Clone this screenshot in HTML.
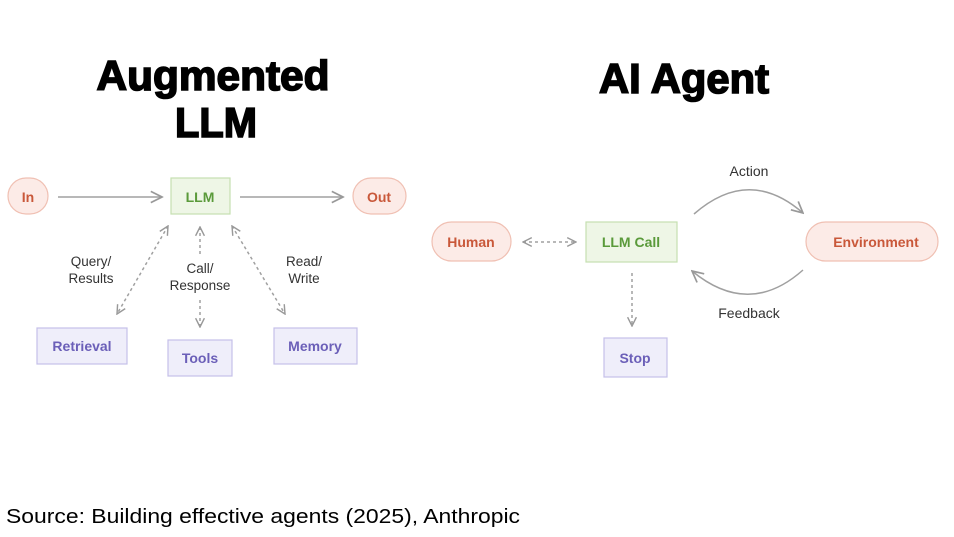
<!DOCTYPE html>
<html><head><meta charset="utf-8"><style>
html,body{margin:0;padding:0;background:#fff;}
svg{display:block;}
</style></head><body>
<svg width="954" height="537" viewBox="0 0 954 537" xmlns="http://www.w3.org/2000/svg" font-family="Liberation Sans, sans-serif">
<defs>
<marker id="ah" viewBox="0 0 10 10" refX="9" refY="5" markerWidth="11" markerHeight="11" markerUnits="userSpaceOnUse" orient="auto-start-reverse">
<path d="M1,1 L9,5 L1,9" fill="none" stroke="#999" stroke-width="1.3"/>
</marker>
<marker id="ah2" viewBox="0 0 10 10" refX="9" refY="5" markerWidth="14" markerHeight="14" markerUnits="userSpaceOnUse" orient="auto-start-reverse">
<path d="M1,1 L9,5 L1,9" fill="none" stroke="#999" stroke-width="1.2"/>
</marker>
</defs>
<g font-weight="bold" fill="#000" stroke="#000" stroke-width="1.6" text-anchor="middle" font-size="42">
<text x="213" y="90" textLength="233" lengthAdjust="spacingAndGlyphs">Augmented</text>
<text x="216" y="137" textLength="82" lengthAdjust="spacingAndGlyphs">LLM</text>
<text x="684" y="93" textLength="170" lengthAdjust="spacingAndGlyphs">AI Agent</text>
</g>
<!-- Left diagram -->
<g stroke-width="1.2">
<rect x="8" y="178" width="40" height="36" rx="18" fill="#fcebe7" stroke="#f0c0b3"/>
<rect x="171" y="178" width="59" height="36" fill="#eef6e6" stroke="#c5e0b0"/>
<rect x="353" y="178" width="53" height="36" rx="18" fill="#fcebe7" stroke="#f0c0b3"/>
<rect x="37" y="328" width="90" height="36" fill="#efeefa" stroke="#c5c0e8"/>
<rect x="168" y="340" width="64" height="36" fill="#efeefa" stroke="#c5c0e8"/>
<rect x="274" y="328" width="83" height="36" fill="#efeefa" stroke="#c5c0e8"/>
</g>
<g font-size="14" font-weight="bold" text-anchor="middle">
<text x="28" y="202" fill="#c9583a">In</text>
<text x="200" y="202" fill="#5a9a3a">LLM</text>
<text x="379" y="202" fill="#c9583a">Out</text>
<text x="82" y="351" fill="#6b5fb8">Retrieval</text>
<text x="200" y="363" fill="#6b5fb8">Tools</text>
<text x="315" y="351" fill="#6b5fb8">Memory</text>
</g>
<g stroke="#a0a0a0" stroke-width="1.5" fill="none">
<line x1="58" y1="197" x2="162" y2="197" marker-end="url(#ah2)"/>
<line x1="240" y1="197" x2="343" y2="197" marker-end="url(#ah2)"/>
<g stroke-dasharray="3,3">
<line x1="168" y1="226" x2="117" y2="314" marker-start="url(#ah)" marker-end="url(#ah)"/>
<line x1="200" y1="227" x2="200" y2="255" marker-start="url(#ah)"/>
<line x1="200" y1="300" x2="200" y2="327" marker-end="url(#ah)"/>
<line x1="232" y1="226" x2="285" y2="314" marker-start="url(#ah)" marker-end="url(#ah)"/>
</g>
</g>
<g font-size="13.5" fill="#333" text-anchor="middle">
<text x="91" y="266">Query/</text><text x="91" y="283">Results</text>
<text x="200" y="273">Call/</text><text x="200" y="290">Response</text>
<text x="304" y="266">Read/</text><text x="304" y="283">Write</text>
</g>
<!-- Right diagram -->
<g stroke-width="1.2">
<rect x="432" y="222" width="79" height="39" rx="19.5" fill="#fcebe7" stroke="#f0c0b3"/>
<rect x="586" y="222" width="91" height="40" fill="#eef6e6" stroke="#c5e0b0"/>
<rect x="806" y="222" width="132" height="39" rx="19.5" fill="#fcebe7" stroke="#f0c0b3"/>
<rect x="604" y="338" width="63" height="39" fill="#efeefa" stroke="#c5c0e8"/>
</g>
<g font-size="14" font-weight="bold" text-anchor="middle">
<text x="471" y="247" fill="#c9583a">Human</text>
<text x="631" y="247" fill="#5a9a3a">LLM Call</text>
<text x="876" y="247" fill="#c9583a">Environment</text>
<text x="635" y="363" fill="#6b5fb8">Stop</text>
</g>
<g stroke="#a0a0a0" stroke-width="1.5" fill="none">
<line x1="523" y1="242" x2="576" y2="242" stroke-dasharray="3,3" marker-start="url(#ah)" marker-end="url(#ah)"/>
<line x1="632" y1="273" x2="632" y2="326" stroke-dasharray="3,3" marker-end="url(#ah)"/>
<path d="M694,214 Q749,166 803,213" marker-end="url(#ah2)"/>
<path d="M803,270 Q749,318 692,271" marker-end="url(#ah2)"/>
</g>
<g font-size="14" fill="#333" text-anchor="middle">
<text x="749" y="176">Action</text>
<text x="749" y="318">Feedback</text>
</g>
<text x="6" y="523" font-size="20" fill="#000" textLength="514" lengthAdjust="spacingAndGlyphs">Source: Building effective agents (2025), Anthropic</text>
</svg>
</body></html>
